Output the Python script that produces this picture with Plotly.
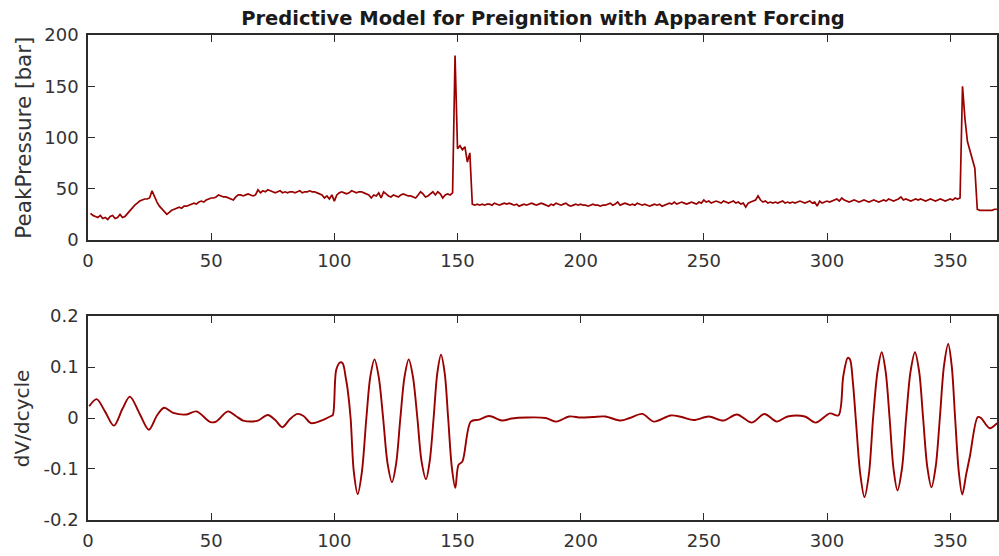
import plotly.graph_objects as go

# ---------------- data ----------------
title_text = "Predictive Model for Preignition with Apparent Forcing"
top_ylabel = "PeakPressure [bar]"
bottom_ylabel = "dV/dcycle"

peak_pressure = [
    26, 24, 23, 22, 24, 21, 22, 20, 23, 24,
    21, 22, 25, 22, 23, 26, 29, 32, 34, 36,
    38, 39, 40, 40, 41, 48, 42, 37, 33, 30,
    27, 25, 27, 29, 30, 31, 32, 31, 33, 33,
    34, 35, 36, 35, 37, 38, 37, 39, 40, 41,
    41, 42, 44, 43, 42, 42, 41, 40, 39, 42,
    44, 44, 43, 44, 45, 44, 43, 44, 49, 46,
    48, 47, 49, 48, 47, 46, 47, 48, 46, 47,
    46, 47, 47, 46, 47, 48, 46, 47, 47, 48,
    47, 47, 46, 45, 44, 41, 43, 40, 44, 38,
    44, 46, 47, 46, 45, 46, 48, 47, 46, 47,
    47, 46, 45, 44, 41, 44, 43, 46, 41, 47,
    45, 43, 42, 44, 43, 42, 44, 45, 44, 43,
    43, 42, 41, 44, 47, 45, 42, 43, 45, 47,
    44, 47, 45, 41, 44, 45, 44, 46, 180, 89,
    92, 88, 91, 76, 85, 35, 34, 35, 34, 35,
    34, 35, 35, 34, 36, 35, 34, 35, 36, 35,
    36, 35, 34, 35, 33, 34, 35, 34, 35, 36,
    35, 34, 35, 36, 35, 34, 33, 35, 34, 36,
    35, 34, 35, 36, 34, 33, 34, 35, 34, 35,
    34, 34, 33, 34, 35, 34, 34, 33, 34, 34,
    35, 36, 34, 35, 37, 34, 35, 36, 35, 34,
    35, 34, 36, 35, 34, 35, 34, 33, 34, 35,
    34, 35, 33, 34, 35, 36, 35, 37, 35, 36,
    37, 36, 35, 36, 37, 36, 35, 37, 36, 39,
    37, 38, 36, 37, 38, 37, 36, 38, 37, 36,
    37, 38, 36, 37, 35, 36, 32, 36, 37, 38,
    39, 43, 39, 37, 38, 36, 37, 36, 37, 36,
    37, 38, 36, 37, 36, 37, 36, 37, 38, 37,
    36, 37, 38, 36, 37, 33, 38, 36, 37, 38,
    37, 38, 39, 40, 38, 41, 39, 38, 37, 38,
    39, 38, 37, 38, 39, 38, 37, 38, 39, 38,
    37, 38, 39, 38, 40, 39, 38, 39, 40, 42,
    39, 40, 39, 38, 39, 40, 39, 40, 39, 38,
    39, 40, 39, 38, 39, 40, 39, 38, 39, 40,
    39, 41, 40, 41, 150, 118, 96, 87, 78, 70,
    30, 29, 29, 29, 29, 29, 29, 30, 30,
]
cycles = list(range(1, len(peak_pressure) + 1))

dv_cycle = [
    0.5, 3.5, 7, 10.5, 14, 17, 21, 24.7, 28, 30.9, 34.6, 40, 44, 49.7, 52,
    56.8, 60, 63, 69, 73, 76, 78.9, 82, 85, 87.5, 90.5, 94.7, 98.7, 99.4,
    100.8, 102.4, 103.4, 104.6, 105.4, 106.6, 107.9, 109.5, 111.2, 113,
    114.6, 116.3, 118.0, 119.8, 121.6, 123.4, 125.1, 126.8, 128.5, 130.2,
    131.9, 133.7, 135.4, 137.2, 138.7, 140.3, 141.8, 143.3, 144.8, 146.2,
    147.7, 149.1, 150.4, 152, 155.4,
    158.8, 162.8, 168.2, 172, 178, 185.8, 190.1, 195.3, 200, 205,
    210, 216.2, 220, 225, 229.7, 236.5, 241, 245.9, 252, 258, 263.4, 269.5,
    274.6, 279.6, 284, 291, 295.4, 301.2, 304.6,
    306.6, 308.4, 309.3, 310.5, 311.8, 313.5, 315.2, 317.0, 318.7, 320.5,
    322.2, 323.8, 325.4, 327.0, 328.6, 330.4, 332.1, 333.9, 335.7, 337.4,
    339, 340.7, 342.4, 344.1, 345.8, 347.5, 349.2, 350.6, 352, 353.5,
    354.9, 356.5, 358, 361.2, 362.5, 366, 369,
]
dv_value = [
    0.023, 0.037, 0.012, -0.015, 0.018, 0.042, 0.008, -0.023, 0.005, 0.020,
    0.010, 0.007, 0.013, -0.008, -0.007, 0.013, 0.004, -0.005, -0.005, 0.006,
    -0.004, -0.018, -0.002, 0.008, 0.004, -0.010, -0.005, 0.004, 0.006,
    0.095, 0.109, 0.107, 0.080, 0.056, 0.0, -0.105, -0.149, -0.105, 0.0,
    0.081, 0.115, 0.081, 0.0, -0.089, -0.126, -0.089, 0.0, 0.081, 0.115,
    0.081, 0.0, -0.085, -0.120, -0.085, 0.0, 0.088, 0.124, 0.088, 0.0,
    -0.097, -0.137, -0.092, -0.085, -0.007,
    -0.003, 0.004, -0.005, -0.001, 0.001, 0.0, -0.007, 0.003, 0.001, 0.002,
    0.003, -0.005, 0.0, 0.008, -0.007, 0.005, 0.002, -0.004, 0.003, -0.005, 0.007, -0.009,
    0.008, -0.007, 0.003, 0.003, -0.009, 0.009, 0.005,
    0.082, 0.118, 0.115, 0.070, -0.010, -0.110, -0.155, -0.110, 0.0, 0.091,
    0.129, 0.091, 0.0, -0.100, -0.142, -0.100, 0.0, 0.091, 0.129, 0.091,
    0.0, -0.096, -0.136, -0.096, 0.0, 0.103, 0.145, 0.103, 0.0, -0.106,
    -0.150, -0.110, -0.075, 0.002, 0.0, -0.020, -0.010,
]

x_tickvals = [0, 50, 100, 150, 200, 250, 300, 350]
top_tickvals = [0, 50, 100, 150, 200]
bottom_tickvals = [-0.2, -0.1, 0, 0.1, 0.2]
bottom_ticktext = ["-0.2", "-0.1", "0", "0.1", "0.2"]

# ---------------- figure ----------------
line_color = "#990000"
axis_color = "#2b2b2b"
font_family = "DejaVu Sans, Liberation Sans, sans-serif"

fig = go.Figure()
fig.add_trace(go.Scatter(x=cycles, y=peak_pressure, mode="lines",
                         line=dict(color=line_color, width=1.7),
                         xaxis="x", yaxis="y", showlegend=False))
fig.add_trace(go.Scatter(x=dv_cycle, y=dv_value, mode="lines",
                         line=dict(color=line_color, width=1.9, shape="spline", smoothing=0.9),
                         xaxis="x2", yaxis="y2", showlegend=False))

common_axis = dict(showline=True, linecolor=axis_color, linewidth=1.6, mirror="ticks",
                   ticks="inside", ticklen=7, tickwidth=1.4, tickcolor=axis_color,
                   showgrid=False, zeroline=False,
                   tickfont=dict(family=font_family, size=18, color="#333333"))

fig.update_layout(
    width=999, height=556,
    margin=dict(l=88, r=0, t=35, b=36),
    paper_bgcolor="white", plot_bgcolor="white",
    title=dict(text=title_text, x=0.5435, xanchor="center", y=1 - 18 / 556, yanchor="middle",
               font=dict(family=font_family, size=19.5, color="#1a1a1a", weight="bold")),
    xaxis=dict(domain=[0, 1], anchor="y", range=[0, 369], tickvals=x_tickvals,
               ticklabelstandoff=4, **common_axis),
    yaxis=dict(domain=[0.5773, 1], anchor="x", range=[0, 200], tickvals=top_tickvals,
               ticklabelstandoff=4, **common_axis),
    xaxis2=dict(domain=[0, 1], anchor="y2", range=[0, 369], tickvals=x_tickvals,
                ticklabelstandoff=4, **common_axis),
    yaxis2=dict(domain=[0, 0.4206], anchor="x2", range=[-0.2, 0.2], tickvals=bottom_tickvals,
                ticktext=bottom_ticktext, ticklabelstandoff=4, **common_axis),
    annotations=[
        dict(text=top_ylabel, xref="paper", yref="paper", x=(23 - 88) / 911, y=(0.5773 + 1) / 2,
             textangle=-90, showarrow=False, xanchor="center", yanchor="middle",
             font=dict(family=font_family, size=21.5, color="#333333")),
        dict(text=bottom_ylabel, xref="paper", yref="paper", x=(22 - 88) / 911, y=0.4206 / 2,
             textangle=-90, showarrow=False, xanchor="center", yanchor="middle",
             font=dict(family=font_family, size=20, color="#333333")),
    ],
)

fig.write_html("out.html")
